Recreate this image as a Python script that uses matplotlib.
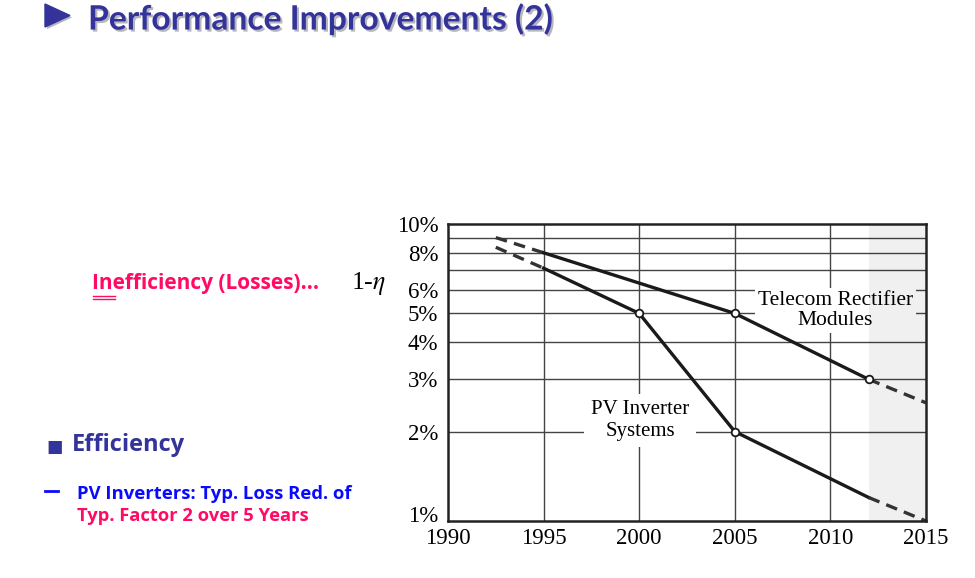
"""
Slide: performance improvements, inefficiency of PV inverters vs telecom rectifiers
"""
import matplotlib.pyplot as plt
from matplotlib import patheffects
from matplotlib.patches import Polygon

# data (year, losses in %)
telecom_years = [1995, 2005, 2012]
telecom_loss = [8.0, 5.0, 3.0]
telecom_start = [1992.5, 9.0]
telecom_end = [2015, 2.5]

pv_years = [1995, 2000, 2005, 2012]
pv_loss = [7.1, 5.0, 2.0, 1.2]
pv_start = [1992.5, 8.35]
pv_end = [2015, 1.0]

forecast_span = [2012, 2015]

year_ticks = [1990, 1995, 2000, 2005, 2010, 2015]
loss_ticks = [1, 2, 3, 4, 5, 6, 7, 8, 9, 10]
loss_labels = ["", "2%", "3%", "4%", "5%", "6%", "", "8%", "", "10%"]

SERIF = "Liberation Serif"
SANS = ["Open Sans", "DejaVu Sans"]
INDIGO = "#333399"
CRIMSON = "#ff0a64"
BLUE = "#0a0aff"

W, H = 975, 578
fig = plt.figure(figsize=(W / 100, H / 100), dpi=100)


def fx(px):
    return px / W


def fy(py):
    return 1 - py / H


shadow = [patheffects.withSimplePatchShadow(offset=(1.5, -1.5), alpha=0.3)]

# slide texts
tri = Polygon([(fx(45), fy(4)), (fx(45), fy(27)), (fx(70), fy(15.5))], closed=True,
              transform=fig.transFigure, color=INDIGO, path_effects=shadow)
fig.add_artist(tri)
fig.text(fx(88), fy(19), "Performance Improvements (2)", family=["Lato", "DejaVu Sans"],
         fontsize=24.2, fontweight="bold", color=INDIGO, va="center", ha="left",
         path_effects=shadow)

fig.text(fx(92), fy(283), "Inefficiency (Losses)...", family=SANS,
         fontsize=15, fontweight="bold", color=CRIMSON, va="center", ha="left")
fig.add_artist(plt.Line2D([fx(93), fx(115)], [fy(296), fy(296)], color=CRIMSON, lw=1))
fig.add_artist(plt.Line2D([fx(93), fx(115)], [fy(299), fy(299)], color=CRIMSON, lw=1))

fig.text(fx(46), fy(447), "\u25a0", family=["DejaVu Sans"], fontsize=12.5, color=INDIGO,
         va="center", ha="left")
fig.text(fx(72), fy(445), "Efficiency", family=SANS, fontsize=17,
         fontweight="bold", color=INDIGO, va="center", ha="left")

fig.add_artist(plt.Line2D([fx(45), fx(58)], [fy(491), fy(491)], color=BLUE, lw=2))
fig.text(fx(77), fy(494), "PV Inverters: Typ. Loss Red. of", family=SANS,
         fontsize=13.3, fontweight="bold", color=BLUE, va="center", ha="left")
fig.text(fx(77), fy(516), "Typ. Factor 2 over 5 Years", family=SANS,
         fontsize=13.2, fontweight="bold", color=CRIMSON, va="center", ha="left")

# chart
ax = fig.add_axes([fx(448), fy(521), fx(926) - fx(448), fy(224) - fy(521)])
ax.set_yscale("log")
ax.set_xlim(year_ticks[0], year_ticks[-1])
ax.set_ylim(1, 10)

# translucent so it also tints the white boxes behind the labels
ax.axvspan(*forecast_span, facecolor="black", alpha=0.06, lw=0, zorder=2.5)
for v in loss_ticks[1:-1]:
    ax.axhline(v, color="#444444", lw=1, zorder=1)
for yr in year_ticks[1:-1]:
    ax.axvline(yr, color="#444444", lw=1, zorder=1)

line_kw = dict(color="#1a1a1a", lw=2.4, zorder=3)
dash_kw = dict(color="#333333", lw=2.4, ls=(0, (3.5, 2.2)), zorder=3)

ax.plot([telecom_start[0], telecom_years[0]], [telecom_start[1], telecom_loss[0]], **dash_kw)
ax.plot(telecom_years, telecom_loss, **line_kw)
ax.plot([telecom_years[-1], telecom_end[0]], [telecom_loss[-1], telecom_end[1]], **dash_kw)

ax.plot([pv_start[0], pv_years[0]], [pv_start[1], pv_loss[0]], **dash_kw)
ax.plot(pv_years, pv_loss, **line_kw)
ax.plot([pv_years[-1], pv_end[0]], [pv_loss[-1], pv_end[1]], **dash_kw)

ax.plot(telecom_years[1:], telecom_loss[1:], "o", ms=5.5, mfc="white", mec="#1a1a1a",
        mew=1.3, zorder=4)
ax.plot(pv_years[1:3], pv_loss[1:3], "o", ms=5.5, mfc="white", mec="#1a1a1a",
        mew=1.3, zorder=4)

ax.text(2010.25, 5.12, "Telecom Rectifier\nModules", family=SERIF, fontsize=15.5,
        ha="center", va="center", linespacing=1.1, zorder=2,
        bbox=dict(facecolor="white", edgecolor="none", pad=2))
ax.text(2000.05, 2.18, "PV Inverter\nSystems", family=SERIF, fontsize=15,
        ha="center", va="center", linespacing=1.15, zorder=2,
        bbox=dict(facecolor="white", edgecolor="none", pad=5))

ax.set_xticks(year_ticks)
ax.set_xticklabels([str(y) for y in year_ticks], family=SERIF, fontsize=16.5)
ax.set_yticks(loss_ticks)
ax.set_yticklabels(loss_labels, family=SERIF, fontsize=16.5)
ax.yaxis.set_minor_locator(plt.NullLocator())
ax.tick_params(axis="y", length=0, pad=7)
ax.tick_params(axis="x", length=0, pad=5)
# the 1% label sits a little above the bottom edge
ax.annotate("1%", xy=(0, loss_ticks[0]), xycoords=("axes fraction", "data"),
            xytext=(-7, 3.5), textcoords="offset points", ha="right", va="center",
            family=SERIF, fontsize=16.5)
for s in ax.spines.values():
    s.set_linewidth(1.8)
    s.set_color("#222222")
    s.set_zorder(5)

fig.text(fx(368), fy(283), "1-$\\eta$", family=SERIF, fontsize=18.5,
         ha="center", va="center", math_fontfamily="stix")

fig.savefig("out.png", dpi=100)
